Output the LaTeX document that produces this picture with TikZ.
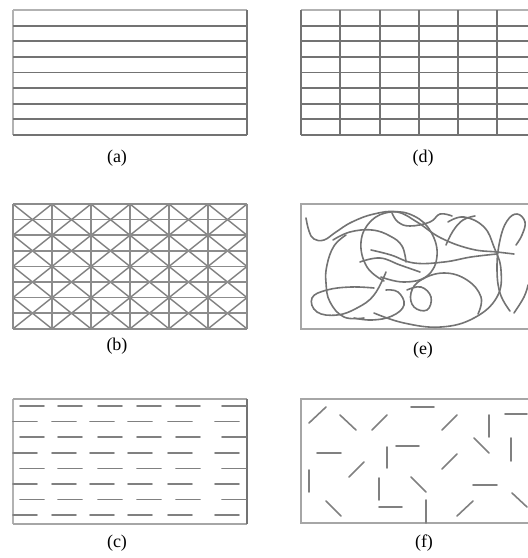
\documentclass[tikz,border=0pt]{standalone}
\usepackage{fontspec}
\setmainfont{Liberation Serif}
\begin{document}
\begin{tikzpicture}[x=1pt,y=-1pt,
  gridline/.style={draw=black!55,line width=1.8pt},
  faintline/.style={draw=black!30,line width=1.4pt},
  boxline/.style={draw=black!35,line width=1.6pt},
  fibre/.style={draw=black!50,line width=1.6pt,line cap=round},
  curvy/.style={draw=black!55,line width=1.6pt,line cap=round},
  lab/.style={font=\fontsize{18}{20}\selectfont,inner sep=0pt}]
\useasboundingbox (0,0) rectangle (528,558);
% ---------------- (a)
\draw[faintline] (13,10) -- (247,10);
\draw[faintline] (13,10) -- (13,135);
\foreach \y in {25.6,41.2,56.8,72.4,88,103.6,119.2,134.8}
  \draw[gridline] (13,\y) -- (247,\y);
\draw[gridline] (247,10) -- (247,135);
\node[lab] (la) at (117,158) {(a)};
% ---------------- (d)
\draw[faintline] (301,10) -- (528,10);
\foreach \y in {25.6,41.2,56.8,72.4,88,103.6,119.2,134.8}
  \draw[gridline] (301,\y) -- (528,\y);
\foreach \x in {301,340,380,419,458,497}
  \draw[gridline] (\x,10) -- (\x,135);
\node[lab] (ld) at (423,158) {(d)};
% ---------------- (b)
\begin{scope}
\clip (13,204) rectangle (247,329);
\foreach \i in {-4,...,6}
  \draw[draw=black!50,line width=1.4pt] (13+39*\i,204) -- (13+39*\i+156,328.8);
\foreach \i in {0,...,10}
  \draw[draw=black!50,line width=1.4pt] (13+39*\i,204) -- (13+39*\i-156,328.8);
\end{scope}
\foreach \y in {204,219.6,235.2,250.8,266.4,282,297.6,313.2,328.8}
  \draw[gridline,draw=black!45,line width=1.5pt] (13,\y) -- (247,\y);
\foreach \x in {13,52,91,130,169,208,247}
  \draw[gridline,draw=black!45,line width=1.5pt] (\x,204) -- (\x,329);
\node[lab] (lb) at (117,346) {(b)};
% ---------------- (e)
\draw[boxline] (528,204) -- (301,204) -- (301,329) -- (528,329);
\begin{scope}
\clip (302,205) rectangle (528,328);
\draw[curvy] plot[smooth,tension=0.7] coordinates {(306,218) (309,231) (314,239) (324,240) (336,232) (352,222) (374,214) (397,212) (417,222) (441,238) (471,249) (497,252) (514,254)};
\draw[curvy] plot[smooth,tension=0.7] coordinates {(384,281) (367,267) (361,242) (371,221) (391,212) (414,216) (431,232) (437,256) (427,276) (404,282) (381,277)};
\draw[curvy] plot[smooth,tension=0.7] coordinates {(374,288) (351,287) (327,290) (312,298) (317,312) (337,315) (357,308) (374,295) (386,272)};
\draw[curvy] plot[smooth,tension=0.7] coordinates {(346,235) (334,246) (327,265) (326,283) (330,302) (344,317) (364,318)};
\draw[curvy] plot[smooth,tension=0.7] coordinates {(371,250) (391,255) (414,263) (444,262) (471,257) (497,254)};
\draw[curvy] plot[smooth,tension=0.7] coordinates {(407,290) (421,287) (431,297) (427,310) (414,307) (411,293) (421,280) (444,273) (467,280) (481,297) (478,314)};
\draw[curvy] plot[smooth,tension=0.7] coordinates {(374,313) (404,323) (441,327) (474,318) (497,297) (501,270) (494,247) (484,227) (464,217) (448,222)};
\draw[curvy] plot[smooth,tension=0.7] coordinates {(510,311) (500,293) (497,267) (500,240) (507,221) (517,214) (525,222) (522,235) (516,245)};
\draw[curvy] plot[smooth,tension=0.7] coordinates {(514,313) (524,297) (528,285)};
\draw[curvy] plot[smooth,tension=0.7] coordinates {(446,245) (453,231) (463,220) (475,216)};
\draw[curvy] plot[smooth,tension=0.7] coordinates {(333,240) (350,232) (372,230) (390,236) (402,246) (406,262)};
\draw[curvy] plot[smooth,tension=0.7] coordinates {(360,262) (380,258) (400,265) (420,272)};
\draw[curvy] plot[smooth,tension=0.7] coordinates {(354,318) (372,320) (392,316) (404,305) (398,292) (386,290)};
\draw[curvy] plot[smooth,tension=0.7] coordinates {(392,213) (398,222) (410,226) (430,222) (440,214) (452,216)};
\end{scope}
\node[lab] (le) at (423,350) {(e)};
% ---------------- (c)
\draw[faintline] (13,399) -- (13,524);
\draw[boxline] (13,399) -- (247,399);
\draw[boxline] (13,524) -- (247,524);
\draw[gridline] (247,399) -- (247,524);
\foreach \y in {406,437.2,468.4,499.6}
  \foreach \x in {20,58,98,137,176,222}
    \draw[fibre] (\x,\y) -- ++(24,0);
\foreach \y in {421.6,452.8,484,515.2}
  \foreach \x in {13,52,90,128,168,215}
    \draw[fibre] (\x,\y) -- ++(24,0);
\node[lab] (lc) at (117,543) {(c)};
% ---------------- (f)
\draw[boxline] (528,399) -- (301,399) -- (301,523) -- (528,523);
\draw[fibre] (309,423) -- (326,407);
\draw[fibre] (340,415) -- (356,430);
\draw[fibre] (372,430) -- (387,415);
\draw[fibre] (411,407) -- (434,407);
\draw[fibre] (442,430) -- (457,415);
\draw[fibre] (489,415) -- (489,437);
\draw[fibre] (505,414) -- (527,414);
\draw[fibre] (317,453) -- (341,453);
\draw[fibre] (349,477) -- (364,462);
\draw[fibre] (387,447) -- (387,468);
\draw[fibre] (396,446) -- (419,446);
\draw[fibre] (442,469) -- (457,454);
\draw[fibre] (474,438) -- (489,453);
\draw[fibre] (511,438) -- (511,461);
\draw[fibre] (309,470) -- (309,492);
\draw[fibre] (379,478) -- (379,500);
\draw[fibre] (411,477) -- (426,492);
\draw[fibre] (326,501) -- (341,516);
\draw[fibre] (379,507) -- (402,507);
\draw[fibre] (426,500) -- (426,523);
\draw[fibre] (457,516) -- (473,501);
\draw[fibre] (473,485) -- (497,485);
\draw[fibre] (512,493) -- (527,507);
\node[lab] (lf) at (424,543) {(f)};
\end{tikzpicture}
\end{document}
